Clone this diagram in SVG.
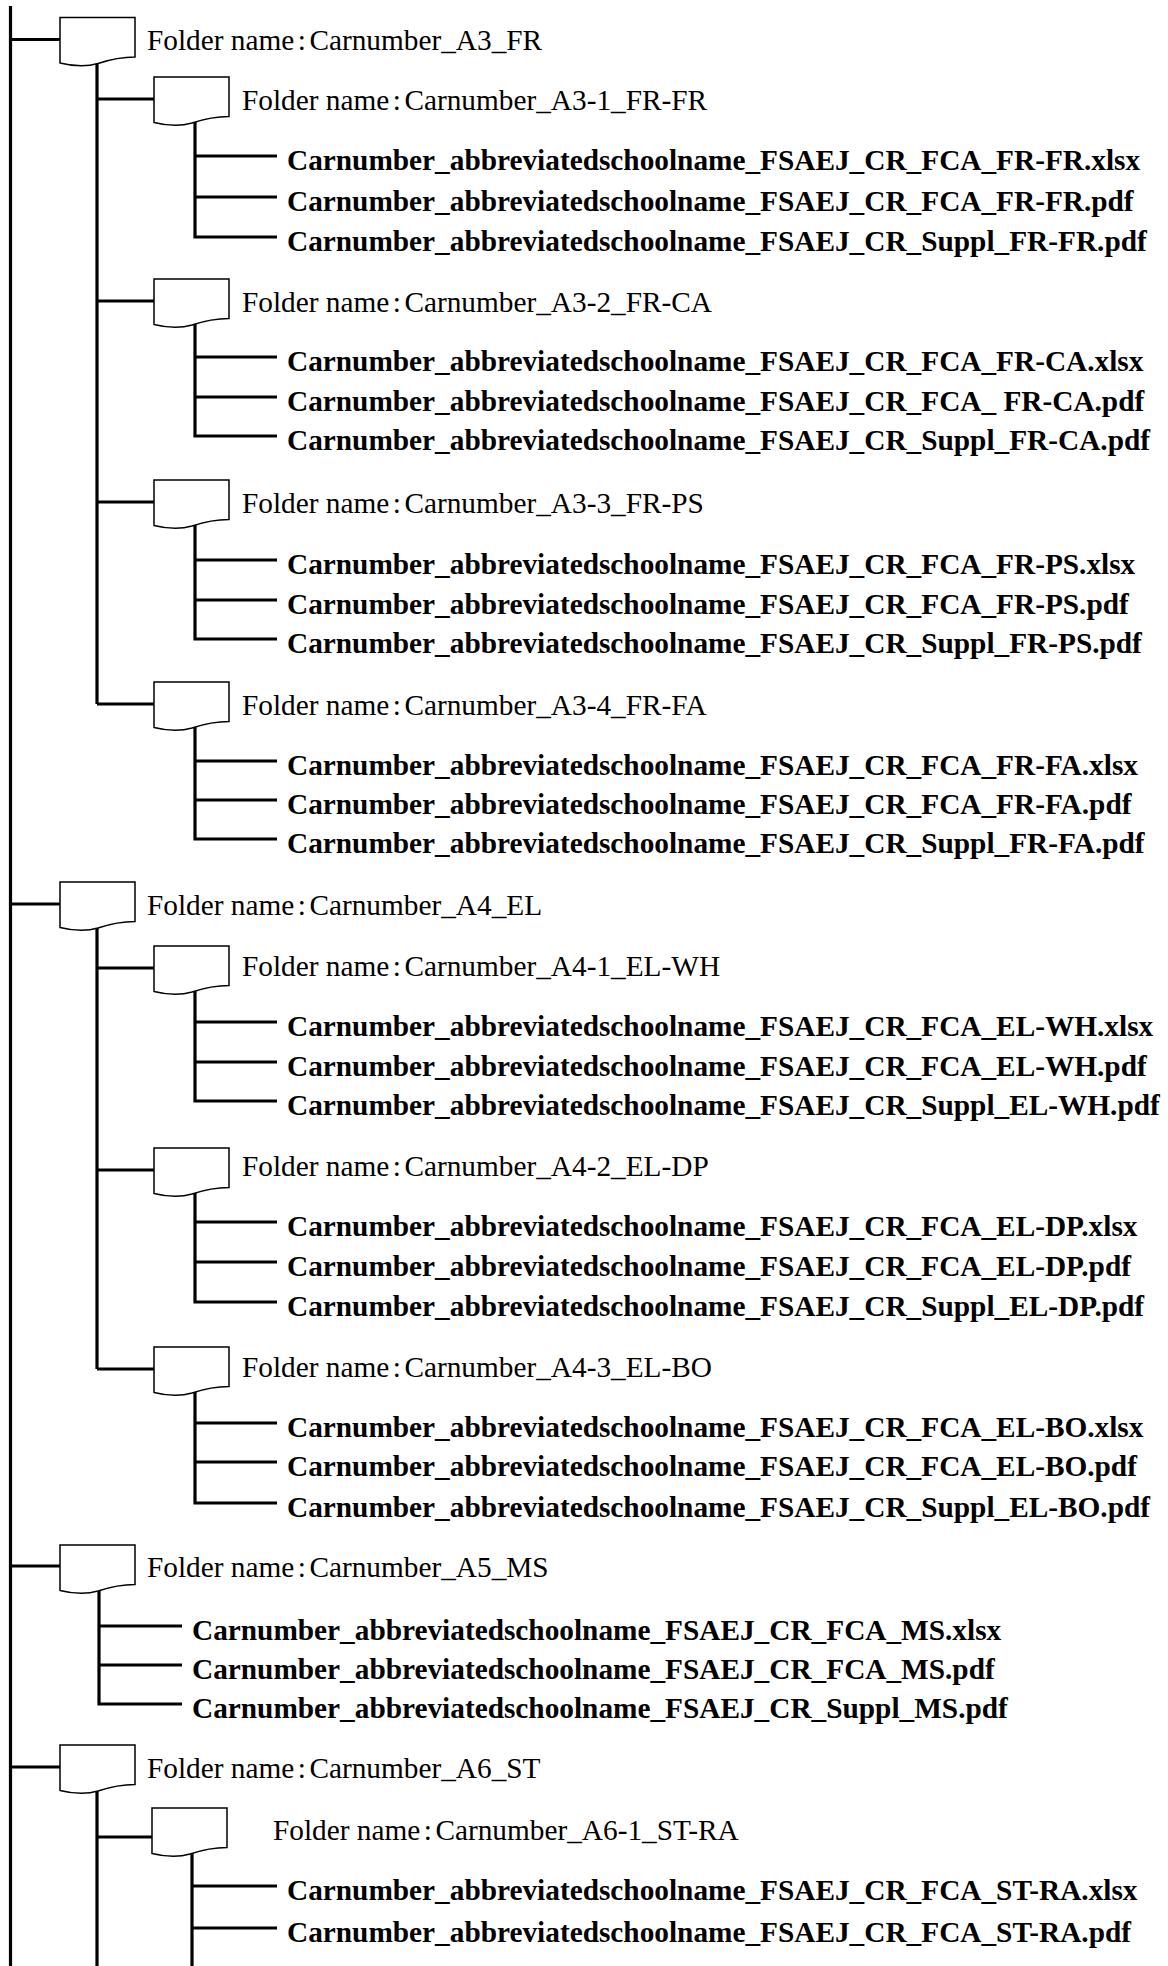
<svg xmlns="http://www.w3.org/2000/svg" xmlns:xlink="http://www.w3.org/1999/xlink" width="1168" height="1966" viewBox="0 0 1168 1966">
<style>
.ln{stroke:#000;stroke-width:3.2;fill:none;stroke-linecap:butt}
.fd{fill:#fff;stroke:#000;stroke-width:1.5}
.fn{font-family:"Liberation Serif",serif;font-size:29.3px;fill:#000}
.fl{font-family:"Liberation Serif",serif;font-size:29.3px;font-weight:bold;fill:#000}
</style>
<defs>
<path id="folder" d="M0,0 H75 V39.5 C60,39.5 50,42 38,46 C25,50 12,48.5 0,45.5 Z"/>
</defs>
<rect width="1168" height="1966" fill="#fff"/>
<g id="connectors" class="ln">
<path d="M10.5,6 V1966"/>
<path d="M10.5,39.5 H60 M10.5,904 H60 M10.5,1566 H60 M10.5,1767 H60"/>
<path d="M97,64 V704 M97,99 H154 M97,301 H154 M97,502 H154 M97,704 H154"/>
<path d="M195,121 V237 H277 M195,156 H277 M195,197 H277"/>
<path d="M195,323 V436 H277 M195,357 H277 M195,397 H277"/>
<path d="M195,524 V639 H277 M195,560 H277 M195,600 H277"/>
<path d="M195,726 V839 H277 M195,761 H277 M195,800 H277"/>
<path d="M97,928 V1369 M97,968 H154 M97,1170 H154 M97,1369 H154"/>
<path d="M195,990 V1101 H277 M195,1022 H277 M195,1062 H277"/>
<path d="M195,1192 V1302 H277 M195,1222 H277 M195,1262 H277"/>
<path d="M195,1391 V1503 H277 M195,1423 H277 M195,1462 H277"/>
<path d="M99,1588 V1704 H182 M99,1626 H182 M99,1665 H182"/>
<path d="M97,1789 V1966 M97,1837 H152"/>
<path d="M192,1852 V1966 M192,1886 H277 M192,1928 H277"/>
</g>
<g id="folder-A3"><use xlink:href="#folder" class="fd" x="60" y="17.5"/><text class="fn" x="147" y="50">Folder name<tspan dx="3.5">:</tspan><tspan dx="3.5">Carnumber_A3_FR</tspan></text></g>
<g id="folder-A3-1"><use xlink:href="#folder" class="fd" x="154" y="77"/><text class="fn" x="242" y="110">Folder name<tspan dx="3.5">:</tspan><tspan dx="3.5">Carnumber_A3-1_FR-FR</tspan></text></g>
<g id="files-A3-1">
<text class="fl" x="287" y="170">Carnumber_abbreviatedschoolname_FSAEJ_CR_FCA_FR-FR.xlsx</text>
<text class="fl" x="287" y="211">Carnumber_abbreviatedschoolname_FSAEJ_CR_FCA_FR-FR.pdf</text>
<text class="fl" x="287" y="251">Carnumber_abbreviatedschoolname_FSAEJ_CR_Suppl_FR-FR.pdf</text>
</g>
<g id="folder-A3-2"><use xlink:href="#folder" class="fd" x="154" y="279"/><text class="fn" x="242" y="312">Folder name<tspan dx="3.5">:</tspan><tspan dx="3.5">Carnumber_A3-2_FR-CA</tspan></text></g>
<g id="files-A3-2">
<text class="fl" x="287" y="371">Carnumber_abbreviatedschoolname_FSAEJ_CR_FCA_FR-CA.xlsx</text>
<text class="fl" x="287" y="411" xml:space="preserve">Carnumber_abbreviatedschoolname_FSAEJ_CR_FCA_ FR-CA.pdf</text>
<text class="fl" x="287" y="450">Carnumber_abbreviatedschoolname_FSAEJ_CR_Suppl_FR-CA.pdf</text>
</g>
<g id="folder-A3-3"><use xlink:href="#folder" class="fd" x="154" y="480"/><text class="fn" x="242" y="513">Folder name<tspan dx="3.5">:</tspan><tspan dx="3.5">Carnumber_A3-3_FR-PS</tspan></text></g>
<g id="files-A3-3">
<text class="fl" x="287" y="574">Carnumber_abbreviatedschoolname_FSAEJ_CR_FCA_FR-PS.xlsx</text>
<text class="fl" x="287" y="614">Carnumber_abbreviatedschoolname_FSAEJ_CR_FCA_FR-PS.pdf</text>
<text class="fl" x="287" y="653">Carnumber_abbreviatedschoolname_FSAEJ_CR_Suppl_FR-PS.pdf</text>
</g>
<g id="folder-A3-4"><use xlink:href="#folder" class="fd" x="154" y="682"/><text class="fn" x="242" y="715">Folder name<tspan dx="3.5">:</tspan><tspan dx="3.5">Carnumber_A3-4_FR-FA</tspan></text></g>
<g id="files-A3-4">
<text class="fl" x="287" y="775">Carnumber_abbreviatedschoolname_FSAEJ_CR_FCA_FR-FA.xlsx</text>
<text class="fl" x="287" y="814">Carnumber_abbreviatedschoolname_FSAEJ_CR_FCA_FR-FA.pdf</text>
<text class="fl" x="287" y="853">Carnumber_abbreviatedschoolname_FSAEJ_CR_Suppl_FR-FA.pdf</text>
</g>
<g id="folder-A4"><use xlink:href="#folder" class="fd" x="60" y="882"/><text class="fn" x="147" y="914.5">Folder name<tspan dx="3.5">:</tspan><tspan dx="3.5">Carnumber_A4_EL</tspan></text></g>
<g id="folder-A4-1"><use xlink:href="#folder" class="fd" x="154" y="946"/><text class="fn" x="242" y="976">Folder name<tspan dx="3.5">:</tspan><tspan dx="3.5">Carnumber_A4-1_EL-WH</tspan></text></g>
<g id="files-A4-1">
<text class="fl" x="287" y="1036">Carnumber_abbreviatedschoolname_FSAEJ_CR_FCA_EL-WH.xlsx</text>
<text class="fl" x="287" y="1076">Carnumber_abbreviatedschoolname_FSAEJ_CR_FCA_EL-WH.pdf</text>
<text class="fl" x="287" y="1115">Carnumber_abbreviatedschoolname_FSAEJ_CR_Suppl_EL-WH.pdf</text>
</g>
<g id="folder-A4-2"><use xlink:href="#folder" class="fd" x="154" y="1148"/><text class="fn" x="242" y="1176">Folder name<tspan dx="3.5">:</tspan><tspan dx="3.5">Carnumber_A4-2_EL-DP</tspan></text></g>
<g id="files-A4-2">
<text class="fl" x="287" y="1236">Carnumber_abbreviatedschoolname_FSAEJ_CR_FCA_EL-DP.xlsx</text>
<text class="fl" x="287" y="1276">Carnumber_abbreviatedschoolname_FSAEJ_CR_FCA_EL-DP.pdf</text>
<text class="fl" x="287" y="1316">Carnumber_abbreviatedschoolname_FSAEJ_CR_Suppl_EL-DP.pdf</text>
</g>
<g id="folder-A4-3"><use xlink:href="#folder" class="fd" x="154" y="1347"/><text class="fn" x="242" y="1377">Folder name<tspan dx="3.5">:</tspan><tspan dx="3.5">Carnumber_A4-3_EL-BO</tspan></text></g>
<g id="files-A4-3">
<text class="fl" x="287" y="1437">Carnumber_abbreviatedschoolname_FSAEJ_CR_FCA_EL-BO.xlsx</text>
<text class="fl" x="287" y="1476">Carnumber_abbreviatedschoolname_FSAEJ_CR_FCA_EL-BO.pdf</text>
<text class="fl" x="287" y="1517">Carnumber_abbreviatedschoolname_FSAEJ_CR_Suppl_EL-BO.pdf</text>
</g>
<g id="folder-A5"><use xlink:href="#folder" class="fd" x="60" y="1545"/><text class="fn" x="147" y="1576.5">Folder name<tspan dx="3.5">:</tspan><tspan dx="3.5">Carnumber_A5_MS</tspan></text></g>
<g id="files-A5">
<text class="fl" x="192" y="1640">Carnumber_abbreviatedschoolname_FSAEJ_CR_FCA_MS.xlsx</text>
<text class="fl" x="192" y="1679">Carnumber_abbreviatedschoolname_FSAEJ_CR_FCA_MS.pdf</text>
<text class="fl" x="192" y="1718">Carnumber_abbreviatedschoolname_FSAEJ_CR_Suppl_MS.pdf</text>
</g>
<g id="folder-A6"><use xlink:href="#folder" class="fd" x="60" y="1745"/><text class="fn" x="147" y="1777.5">Folder name<tspan dx="3.5">:</tspan><tspan dx="3.5">Carnumber_A6_ST</tspan></text></g>
<g id="folder-A6-1"><use xlink:href="#folder" class="fd" x="152" y="1808"/><text class="fn" x="273" y="1840">Folder name<tspan dx="3.5">:</tspan><tspan dx="3.5">Carnumber_A6-1_ST-RA</tspan></text></g>
<g id="files-A6-1">
<text class="fl" x="287" y="1900">Carnumber_abbreviatedschoolname_FSAEJ_CR_FCA_ST-RA.xlsx</text>
<text class="fl" x="287" y="1942">Carnumber_abbreviatedschoolname_FSAEJ_CR_FCA_ST-RA.pdf</text>
</g>
</svg>
